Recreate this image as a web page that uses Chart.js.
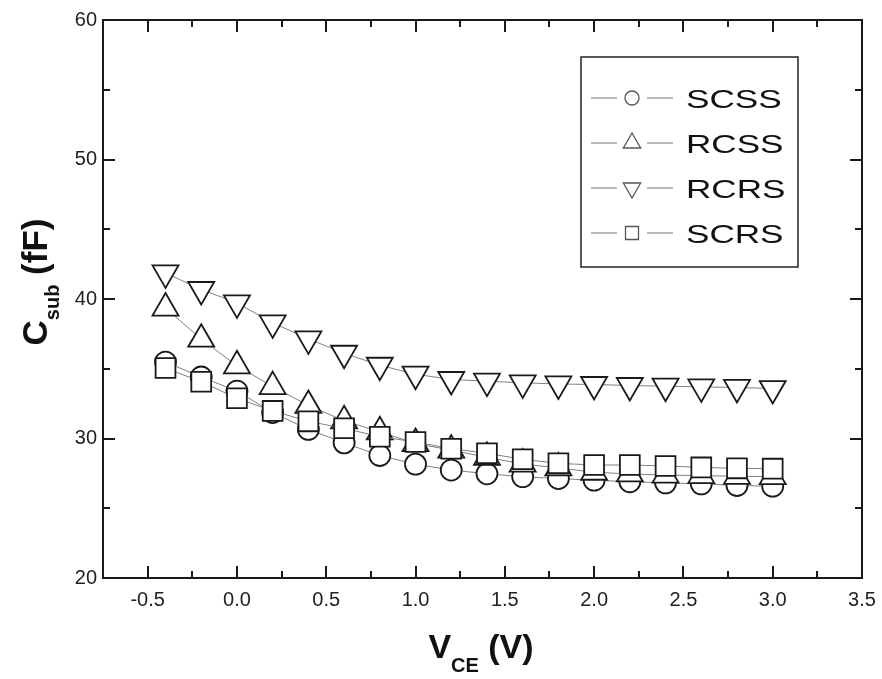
<!DOCTYPE html>
<html>
<head>
<meta charset="utf-8">
<script src="https://cdn.jsdelivr.net/npm/chart.js"></script>
<style>
  html, body { margin: 0; padding: 0; background: #fff; }
  #wrap { width: 882px; height: 679px; position: relative; }
</style>
</head>
<body>
<div id="wrap"><canvas id="chart"></canvas></div>
<script>
// bias voltage (V)
const vce = [-0.4, -0.2, 0.0, 0.2, 0.4, 0.6, 0.8, 1.0, 1.2, 1.4, 1.6, 1.8, 2.0, 2.2, 2.4, 2.6, 2.8, 3.0];

// substrate capacitance (fF) per structure
const scss = [35.48, 34.41, 33.40, 31.86, 30.65, 29.69, 28.78, 28.16, 27.74, 27.47, 27.26, 27.13, 27.01, 26.90, 26.82, 26.75, 26.63, 26.58];
const rcss = [39.35, 37.12, 35.21, 33.72, 32.37, 31.27, 30.48, 29.64, 29.17, 28.65, 28.17, 27.89, 27.58, 27.46, 27.38, 27.34, 27.29, 27.27];
const rcrs = [41.87, 40.68, 39.72, 38.29, 37.14, 36.11, 35.25, 34.61, 34.23, 34.11, 33.99, 33.91, 33.87, 33.80, 33.75, 33.70, 33.66, 33.58];
const scrs = [35.05, 34.07, 32.88, 31.98, 31.23, 30.73, 30.13, 29.75, 29.27, 28.94, 28.51, 28.22, 28.10, 28.10, 28.03, 27.93, 27.86, 27.84];

const seriesNames = ['SCSS', 'RCSS', 'RCRS', 'SCRS'];

// axis ticks
const xTicks = [-0.5, 0.0, 0.5, 1.0, 1.5, 2.0, 2.5, 3.0, 3.5];
const xMinorTicks = [-0.25, 0.25, 0.75, 1.25, 1.75, 2.25, 2.75, 3.25];
const yTicks = [20, 30, 40, 50, 60];
const yMinorTicks = [25, 35, 45, 55];

const INK = '#1a1a1a';
const LINE = '#808080';

function toPoints(ys) {
    return vce.map((x, i) => ({ x: x, y: ys[i] }));
}

function series(label, ys, style, radius, rotation, order) {
    return {
        label: label,
        data: toPoints(ys),
        showLine: true,
        borderColor: LINE,
        borderWidth: 1,
        pointStyle: style,
        pointRotation: rotation,
        pointRadius: radius,
        pointBackgroundColor: '#fff',
        pointBorderColor: INK,
        pointBorderWidth: 1.8,
        order: order
    };
}

// draw a marker shape for the legend
function legendMarker(ctx, kind, x, y) {
    ctx.save();
    ctx.strokeStyle = '#555';
    ctx.lineWidth = 1.3;
    ctx.fillStyle = '#fff';
    ctx.beginPath();
    if (kind === 0) {
        ctx.arc(x, y, 7, 0, Math.PI * 2);
    } else if (kind === 1 || kind === 2) {
        const r = 10;
        const s = kind === 1 ? 1 : -1;
        ctx.moveTo(x, y - s * r);
        ctx.lineTo(x + r * 0.866, y + s * r / 2);
        ctx.lineTo(x - r * 0.866, y + s * r / 2);
        ctx.closePath();
    } else {
        ctx.rect(x - 6.5, y - 6.5, 13, 13);
    }
    ctx.fill();
    ctx.stroke();
    ctx.restore();
}

// draws a run of text pieces with subscripts, centred on cx
function drawTitle(ctx, runs, cx, baseY) {
    let total = 0;
    runs.forEach(r => {
        ctx.font = r.font;
        r.w = ctx.measureText(r.text).width;
        total += r.w;
    });
    let x = cx - total / 2;
    runs.forEach(r => {
        ctx.font = r.font;
        ctx.fillText(r.text, x, baseY + r.dy);
        x += r.w;
    });
}

const framePlugin = {
    id: 'frame',
    afterDraw(chart) {
        const ctx = chart.ctx;
        const a = chart.chartArea;
        const xs = chart.scales.x;
        const ys = chart.scales.y;

        ctx.save();
        ctx.strokeStyle = INK;
        ctx.lineWidth = 2;
        ctx.strokeRect(a.left, a.top, a.right - a.left, a.bottom - a.top);

        // inward ticks on all four sides
        const tick = (vals, len, isX) => {
            vals.forEach(v => {
                ctx.beginPath();
                if (isX) {
                    const px = Math.round(xs.getPixelForValue(v));
                    ctx.moveTo(px, a.bottom); ctx.lineTo(px, a.bottom - len);
                    ctx.moveTo(px, a.top); ctx.lineTo(px, a.top + len);
                } else {
                    const py = Math.round(ys.getPixelForValue(v));
                    ctx.moveTo(a.left, py); ctx.lineTo(a.left + len, py);
                    ctx.moveTo(a.right, py); ctx.lineTo(a.right - len, py);
                }
                ctx.stroke();
            });
        };
        tick(xTicks, 12, true);
        tick(xMinorTicks, 7, true);
        tick(yTicks, 12, false);
        tick(yMinorTicks, 7, false);

        // axis titles
        ctx.fillStyle = '#111';
        ctx.textBaseline = 'alphabetic';
        ctx.textAlign = 'left';
        drawTitle(ctx, [
            { text: 'V', font: 'bold 34px "Liberation Sans", Arial, sans-serif', dy: 0 },
            { text: 'CE', font: 'bold 20px "Liberation Sans", Arial, sans-serif', dy: 14 },
            { text: ' (V)', font: 'bold 34px "Liberation Sans", Arial, sans-serif', dy: 0 }
        ], 481, 658);

        ctx.save();
        ctx.translate(47, 282);
        ctx.rotate(-Math.PI / 2);
        drawTitle(ctx, [
            { text: 'C', font: 'bold 35px "Liberation Sans", Arial, sans-serif', dy: 0 },
            { text: 'sub', font: 'bold 20px "Liberation Sans", Arial, sans-serif', dy: 12 },
            { text: ' (fF)', font: 'bold 35px "Liberation Sans", Arial, sans-serif', dy: 0 }
        ], 0, 0);
        ctx.restore();

        // legend box
        ctx.lineWidth = 1.5;
        ctx.strokeStyle = '#222';
        ctx.strokeRect(581, 57, 217, 210);
        seriesNames.forEach((name, i) => {
            const y = 98 + i * 45;
            ctx.strokeStyle = '#777';
            ctx.lineWidth = 1;
            ctx.beginPath();
            ctx.moveTo(591, y); ctx.lineTo(617, y);
            ctx.moveTo(647, y); ctx.lineTo(673, y);
            ctx.stroke();
            legendMarker(ctx, i, 632, y);
            ctx.save();
            ctx.translate(686, y + 9.5);
            ctx.scale(1.35, 1);
            ctx.font = '26px "Liberation Sans", Arial, sans-serif';
            ctx.fillStyle = '#111';
            ctx.fillText(name, 0, 0);
            ctx.restore();
        });
        ctx.restore();
    }
};

const tickFont = { family: '"Liberation Sans", Arial, sans-serif', size: 20 };

new Chart(document.getElementById('chart'), {
    type: 'scatter',
    data: {
        datasets: [
            series(seriesNames[0], scss, 'circle', 10.5, 0, 3),
            series(seriesNames[1], rcss, 'triangle', 15, 0, 2),
            series(seriesNames[2], rcrs, 'triangle', 15, 180, 1),
            series(seriesNames[3], scrs, 'rect', 14, 0, 0)
        ]
    },
    options: {
        responsive: true,
        maintainAspectRatio: false,
        animation: false,
        layout: { padding: { left: 0, top: 20, right: 20, bottom: 0 } },
        plugins: {
            legend: { display: false },
            tooltip: { enabled: false }
        },
        scales: {
            x: {
                type: 'linear',
                min: -0.75,
                max: 3.5,
                afterBuildTicks: s => { s.ticks = xTicks.map(v => ({ value: v })); },
                afterFit: s => { s.height = 101; s.paddingLeft = 0; s.paddingRight = 0; },
                grid: { display: false, drawTicks: false },
                border: { display: true, color: INK, width: 2 },
                ticks: {
                    padding: 10,
                    color: '#222',
                    font: tickFont,
                    maxRotation: 0,
                    callback: v => v.toFixed(1)
                }
            },
            y: {
                type: 'linear',
                min: 20,
                max: 60,
                afterBuildTicks: s => { s.ticks = yTicks.map(v => ({ value: v })); },
                afterFit: s => { s.width = 103; s.paddingTop = 0; s.paddingBottom = 0; },
                grid: { display: false, drawTicks: false },
                border: { display: true, color: INK, width: 2 },
                ticks: {
                    padding: 6,
                    color: '#222',
                    font: tickFont,
                    callback: v => String(v)
                }
            }
        }
    },
    plugins: [framePlugin]
});
</script>
</body>
</html>
